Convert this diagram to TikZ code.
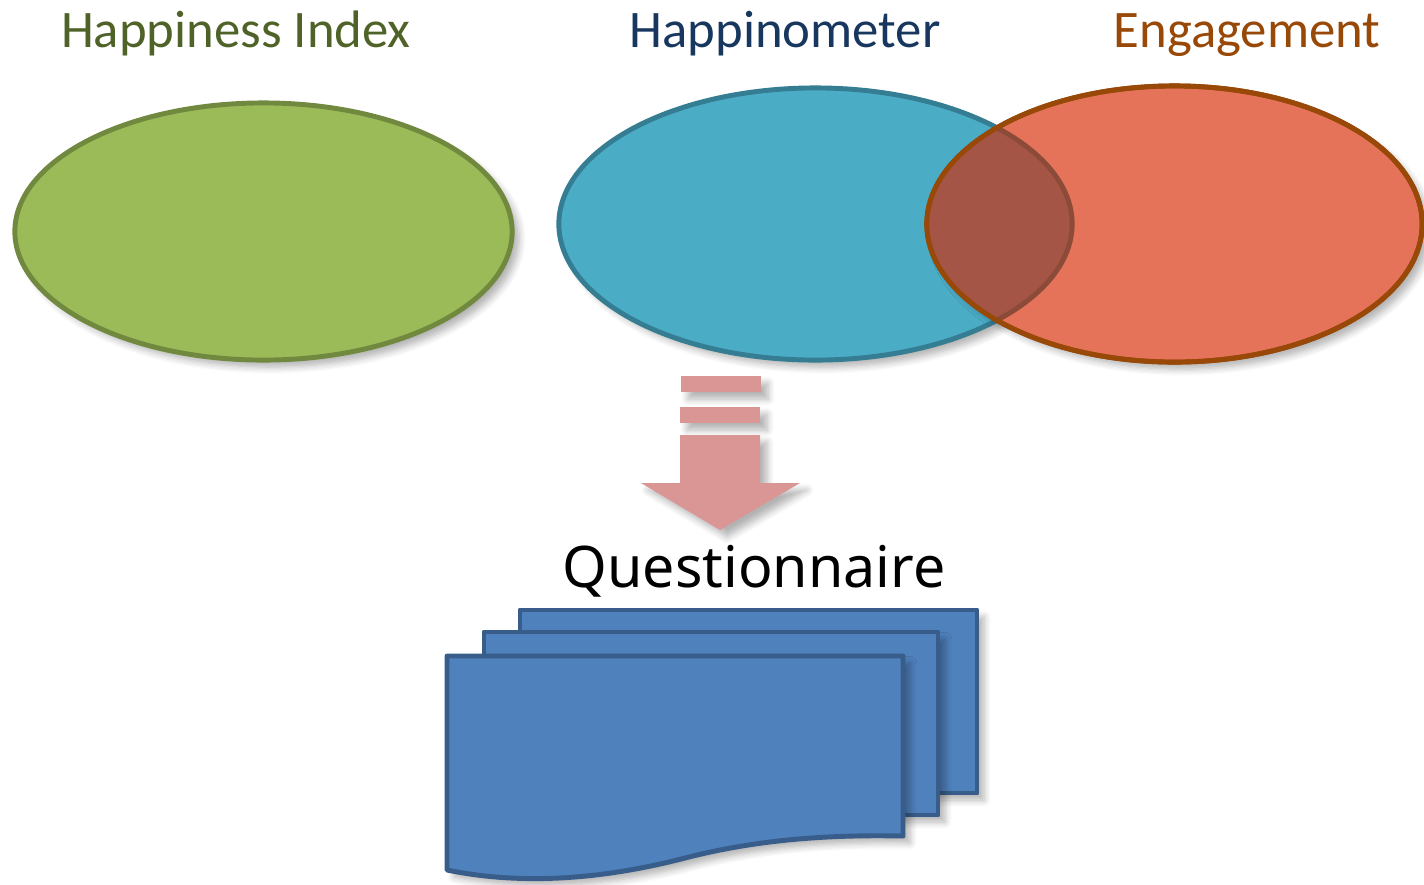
\documentclass[tikz,border=0pt]{standalone}
\usepackage{fontspec}
\setmainfont{Carlito}
\newfontfamily\qfont{Noto Sans}
\usetikzlibrary{shapes.geometric,shadows.blur}

\definecolor{idxfill}{HTML}{9BBB59}
\definecolor{idxline}{HTML}{71893F}
\definecolor{idxtext}{HTML}{4F6228}
\definecolor{metfill}{HTML}{4BACC6}
\definecolor{metline}{HTML}{357D92}
\definecolor{mettext}{HTML}{17375E}
\definecolor{engfill}{HTML}{E5735A}
\definecolor{engline}{HTML}{984807}
\definecolor{engtext}{HTML}{984807}
\definecolor{overlap}{HTML}{A45545}
\definecolor{overline}{HTML}{8C4A38}
\definecolor{arrowpink}{HTML}{D99694}
\definecolor{sheetfill}{HTML}{4F81BD}
\definecolor{sheetline}{HTML}{385D8A}

\begin{document}
\begin{tikzpicture}
        [x=0.01cm, y=-0.01cm,
         oval/.style={ellipse, inner sep=0pt, line width=1.4pt,
                      blur shadow={shadow xshift=2pt, shadow yshift=-2pt, shadow blur steps=6, shadow opacity=30}},
         title/.style={anchor=base, font=\fontsize{15}{18}\selectfont},
         blockarrow/.style={fill=arrowpink,
                      blur shadow={shadow xshift=2pt, shadow yshift=-2pt, shadow blur steps=6, shadow opacity=30}},
         sheet/.style={fill=sheetfill, draw=sheetline, line width=1.4pt, line join=round,
                      blur shadow={shadow xshift=2pt, shadow yshift=-2pt, shadow blur steps=6, shadow opacity=30}}]
        \useasboundingbox (0,0) rectangle (1424,884);

        % headings
        \node (idxlabel) at (236,47) [title, text=idxtext] {Happiness Index};
        \node (metlabel) at (785,47) [title, text=mettext] {Happinometer};
        \node (englabel) at (1247,47) [title, text=engtext] {Engagement};

        % ovals
        \node (idx) at (263.5,231.5) [oval, fill=idxfill, draw=idxline, minimum width=4.97cm, minimum height=2.57cm] {};
        \node (met) at (815.5,224) [oval, fill=metfill, draw=metline, minimum width=5.13cm, minimum height=2.72cm] {};
        \node (eng) at (1174.5,224) [oval, fill=engfill, draw=engline, minimum width=4.95cm, minimum height=2.76cm] {};
        \begin{scope}
          \clip (eng.center) ellipse [x radius=2.475cm, y radius=1.38cm];
          \draw[fill=overlap, draw=overline, line width=1.4pt] (met.center) ellipse [x radius=2.565cm, y radius=1.36cm];
        \end{scope}
        \draw[engline, line width=1.4pt] (eng.center) ellipse [x radius=2.475cm, y radius=1.38cm];

        % arrow down
        \fill[blockarrow] (681,376) rectangle (761,392);
        \fill[blockarrow] (680,407) rectangle (760,423);
        \fill[blockarrow] (680,435) -- (760,435) -- (760,483) -- (800,483) -- (720,530)
                          -- (641,483) -- (680,483) -- cycle;

        \node (quest) at (754,587) [anchor=base, font=\qfont\fontsize{16.3}{20}\selectfont] {Questionnaire};

        % stack of sheets
        \draw[sheet] (520,610) rectangle (977,793);
        \draw[sheet] (484,632) rectangle (938,815);
        \draw[sheet] (447,656) -- (903,656) -- (903,836)
                     .. controls (850,835) and (770,836) .. (685,858)
                     .. controls (600,880) and (520,885) .. (447,870) -- cycle;
\end{tikzpicture}
\end{document}
